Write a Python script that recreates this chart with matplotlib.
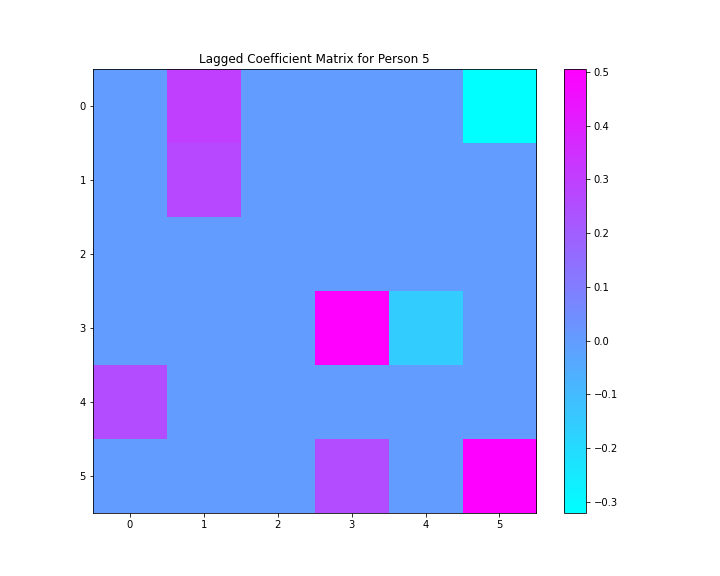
import matplotlib
matplotlib.use("Agg")
import matplotlib.pyplot as plt
import numpy as np

row0 = [0.0, 0.30, 0.0, 0.0, 0.0, -0.32]
row1 = [0.0, 0.27, 0.0, 0.0, 0.0, 0.0]
row2 = [0.0, 0.0, 0.0, 0.0, 0.0, 0.0]
row3 = [0.0, 0.0, 0.0, 0.505, -0.155, 0.0]
row4 = [0.26, 0.0, 0.0, 0.0, 0.0, 0.0]
row5 = [0.0, 0.0, 0.0, 0.26, 0.0, 0.50]
M = np.array([row0, row1, row2, row3, row4, row5])

fig, ax = plt.subplots(figsize=(10, 8), dpi=72)
im = ax.imshow(M, cmap="cool")
fig.colorbar(im, ax=ax)
ax.set_title("Lagged Coefficient Matrix for Person 5")
fig.savefig("out.png", dpi=72)
